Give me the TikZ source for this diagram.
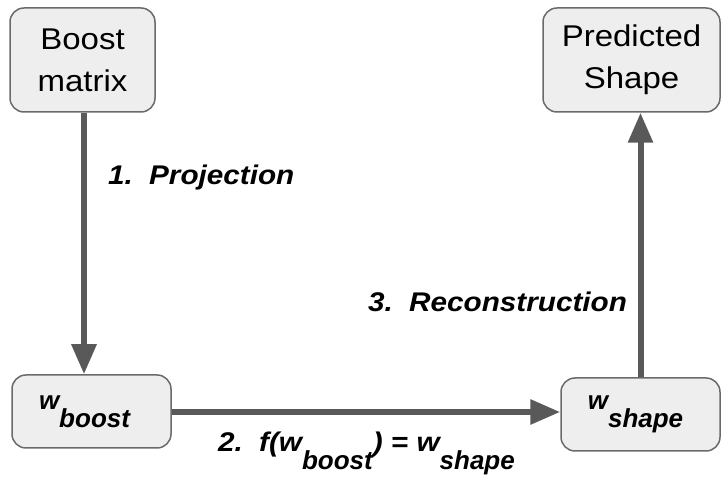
\documentclass[tikz,border=0pt]{standalone}
\usepackage{fontspec}
\setmainfont{Liberation Sans}[FakeStretch=1.1]
\newfontfamily\plainsans{Liberation Sans}
\usetikzlibrary{arrows.meta}
\definecolor{boxfill}{HTML}{EEEEEE}
\definecolor{boxline}{HTML}{6A6A6A}
\definecolor{flowgray}{HTML}{595959}
\tikzset{
  stage/.style={draw=boxline, line width=1.5pt, fill=boxfill, rounded corners=14pt,
    align=center, inner sep=0pt, font=\fontsize{30}{42}\selectfont},
  vecbox/.style={stage, font=\plainsans\fontsize{26}{28}\selectfont\bfseries\itshape},
  flow/.style={draw=flowgray, line width=6pt, -{Triangle[width=24pt,length=30pt]}},
  steplabel/.style={anchor=base west, inner sep=0pt, font=\fontsize{27}{30}\selectfont\bfseries\itshape}
}
\newcommand{\lowsub}[1]{\raisebox{-18pt}{\plainsans\fontsize{26}{28}\selectfont\bfseries\itshape #1}}
\begin{document}
\begin{tikzpicture}[x=1pt, y=1pt]
  \useasboundingbox (0,0) rectangle (722,478);
  % boxes
  \node[stage, minimum width=145pt, minimum height=104pt] (boostmat) at (82.5,418) {Boost\\matrix};
  \node[stage, minimum width=177pt, minimum height=104pt] (predshape) at (631.5,418) {Predicted\\Shape};
  \node[vecbox, minimum width=159pt, minimum height=73pt] (wboost) at (91.5,66.5) {\hspace*{-14pt}w\lowsub{boost}};
  \node[vecbox, minimum width=159pt, minimum height=73pt] (wshape) at (640.5,63.5) {\hspace*{-10pt}w\lowsub{shape}};
  % arrows
  \draw[flow] ([xshift=1.5pt]boostmat.south) -- ([xshift=1.5pt]boostmat.south |- wboost.north);
  \draw[flow] ([yshift=-0.5pt]wboost.east) -- ([yshift=-0.5pt]wboost.east -| wshape.west);
  \draw[flow] (wshape.north) -- (wshape.north |- predshape.south);
  % labels
  \node[steplabel] (lblproj) at (108,293) {1.\hspace{0.6em}Projection};
  \node[steplabel] (lblrec) at (368,166) {3.\hspace{0.6em}Reconstruction};
  \node[steplabel] (lblmap) at (218,26) {2.\hspace{0.6em}f(w\lowsub{boost}) = w\lowsub{shape}};
\end{tikzpicture}
\end{document}
